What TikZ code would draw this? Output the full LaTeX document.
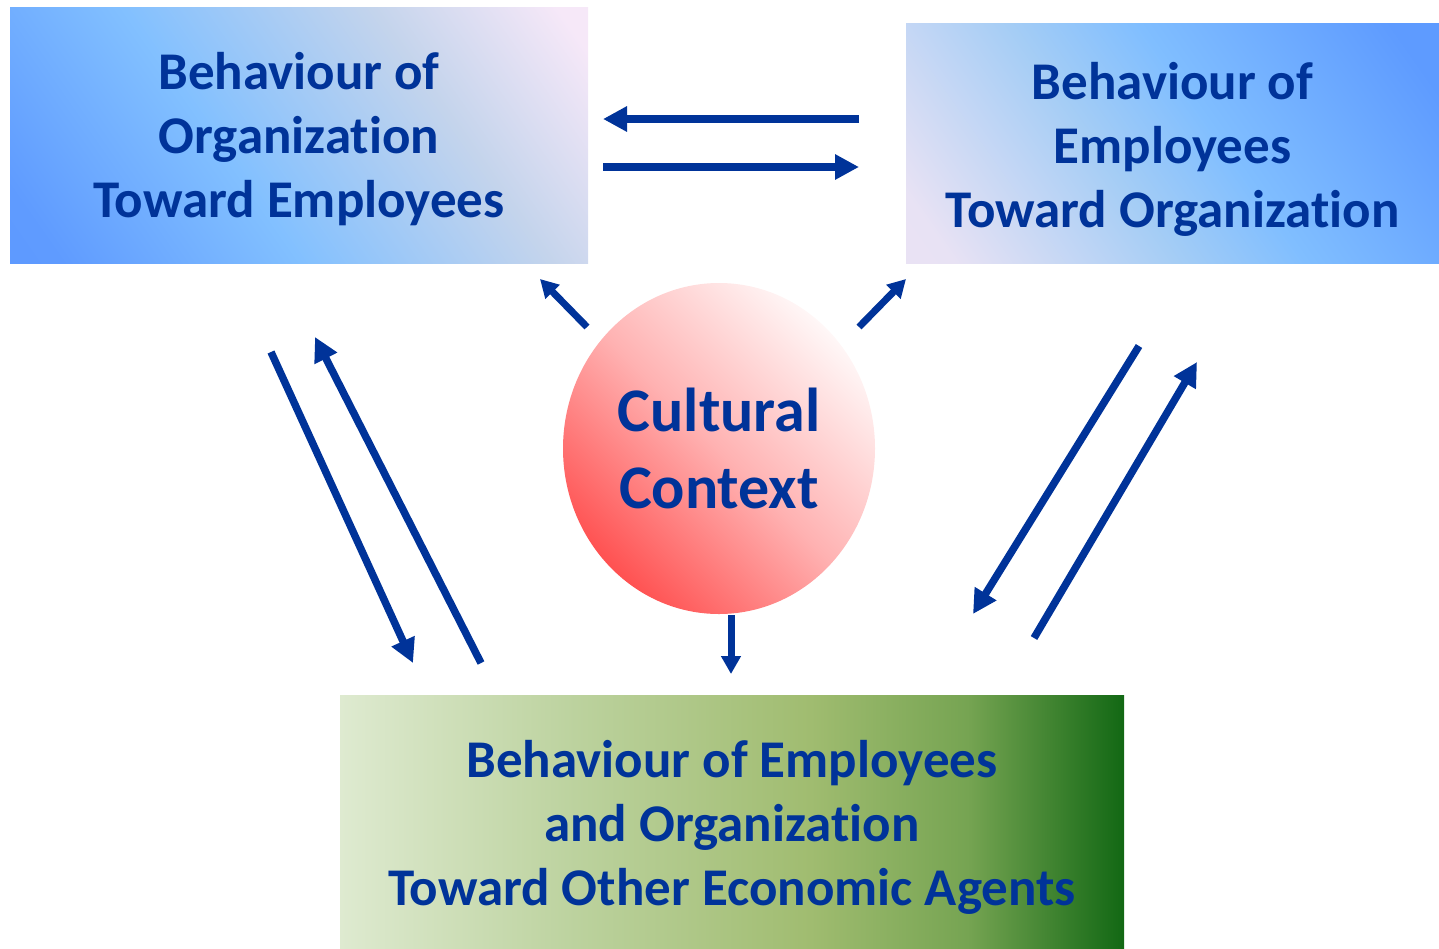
\documentclass[tikz,border=0pt]{standalone}
\usepackage{fontspec}
\setmainfont{Carlito}[Ligatures=NoCommon]
\usetikzlibrary{arrows.meta,shapes.geometric}

\definecolor{inkblue}{HTML}{003399}

% diagonal shadings of the three boxes and the circle
\pgfdeclarehorizontalshading{orgshade}{100bp}{%
  color(0bp)=(rgb,255:red,90;green,150;blue,255);
  color(20bp)=(rgb,255:red,95;green,155;blue,255);
  color(42bp)=(rgb,255:red,130;green,192;blue,255);
  color(65bp)=(rgb,255:red,196;green,212;blue,236);
  color(82bp)=(rgb,255:red,246;green,232;blue,248);
  color(100bp)=(rgb,255:red,246;green,232;blue,248)}
\pgfdeclarehorizontalshading{empshade}{100bp}{%
  color(0bp)=(rgb,255:red,238;green,228;blue,245);
  color(20bp)=(rgb,255:red,232;green,226;blue,244);
  color(42bp)=(rgb,255:red,165;green,205;blue,245);
  color(55bp)=(rgb,255:red,128;green,190;blue,255);
  color(80bp)=(rgb,255:red,94;green,155;blue,255);
  color(100bp)=(rgb,255:red,94;green,155;blue,255)}
\pgfdeclarehorizontalshading{agentshade}{100bp}{%
  color(0bp)=(rgb,255:red,222;green,234;blue,208);
  color(25bp)=(rgb,255:red,222;green,234;blue,208);
  color(40bp)=(rgb,255:red,188;green,210;blue,158);
  color(55bp)=(rgb,255:red,160;green,188;blue,112);
  color(65bp)=(rgb,255:red,118;green,164;blue,82);
  color(75bp)=(rgb,255:red,18;green,104;blue,20);
  color(100bp)=(rgb,255:red,18;green,104;blue,20)}
\pgfdeclarehorizontalshading{cultshade}{100bp}{%
  color(0bp)=(rgb,255:red,255;green,64;blue,64);
  color(22bp)=(rgb,255:red,255;green,70;blue,70);
  color(50bp)=(rgb,255:red,255;green,178;blue,178);
  color(78bp)=(rgb,255:red,255;green,255;blue,255);
  color(100bp)=(rgb,255:red,255;green,255;blue,255)}

\tikzset{
  boxfill/.style={rectangle, inner sep=0pt},
  boxtext/.style={inner sep=0pt, align=center, text=inkblue,
    font=\fontsize{53}{64}\selectfont\bfseries},
  ctx/.style={ellipse, inner sep=0pt, minimum width=312pt,
    minimum height=331pt, align=center,
    text=inkblue, font=\fontsize{62}{77}\selectfont\bfseries,
    shading=cultshade, shading angle=45},
  bigflow/.style={draw=inkblue, line width=7.5pt,
    -{Triangle[length=24pt,width=24pt]}},
  smallflow/.style={draw=inkblue, line width=7pt,
    -{Triangle[length=18pt,width=19pt]}},
}

\begin{document}
\begin{tikzpicture}[x=1pt,y=1pt]
\useasboundingbox (0,0) rectangle (1439,-948);

% the three behaviour boxes
\node[boxfill, minimum width=578pt, minimum height=256pt,
  shading=orgshade, shading angle=35] (org) at (299,-135) {};
\node[boxtext] (orgtext) at ([yshift=-4pt]org.center)
  {Behaviour of\\Organization\\Toward Employees};

\node[boxfill, minimum width=533pt, minimum height=240pt,
  shading=empshade, shading angle=35] (emp) at (1172.5,-143) {};
\node[boxtext] (emptext) at ([yshift=-6pt]emp.center)
  {Behaviour of\\Employees\\Toward Organization};

\node[boxfill, minimum width=784pt, minimum height=253pt,
  shading=agentshade] (agents) at (732,-821.5) {};
\node[boxtext] (agentstext) at ([yshift=-6pt]agents.center)
  {Behaviour of Employees\\and Organization\\Toward Other Economic Agents};

% cultural context in the middle
\node[ctx] (ctx) at (719,-448.5) {Cultural\\Context};

% connector end points
\coordinate (oe1) at (859,-119);
\coordinate (oe2) at (603,-119);
\coordinate (oe3) at (603,-167);
\coordinate (oe4) at (859,-167);
\coordinate (co1) at (587,-327);
\coordinate (co2) at (540,-279);
\coordinate (ce1) at (859,-327);
\coordinate (ce2) at (906,-279);
\coordinate (ca1) at (731,-615);
\coordinate (ca2) at (731,-674);
\coordinate (oa1) at (271,-352);
\coordinate (oa2) at (413,-663);
\coordinate (ao1) at (481,-663);
\coordinate (ao2) at (315,-337);
\coordinate (ea1) at (1139,-346);
\coordinate (ea2) at (973,-614);
\coordinate (ae1) at (1034,-638);
\coordinate (ae2) at (1197,-362);

% exchanges between organization and employees
\draw[bigflow] (oe1) -- (oe2);
\draw[bigflow] (oe3) -- (oe4);

% influence of the cultural context
\draw[smallflow] (co1) -- (co2);
\draw[smallflow] (ce1) -- (ce2);
\draw[smallflow] (ca1) -- (ca2);

% exchanges with other economic agents
\draw[bigflow] (oa1) -- (oa2);
\draw[bigflow] (ao1) -- (ao2);
\draw[bigflow] (ea1) -- (ea2);
\draw[bigflow] (ae1) -- (ae2);
\end{tikzpicture}
\end{document}
